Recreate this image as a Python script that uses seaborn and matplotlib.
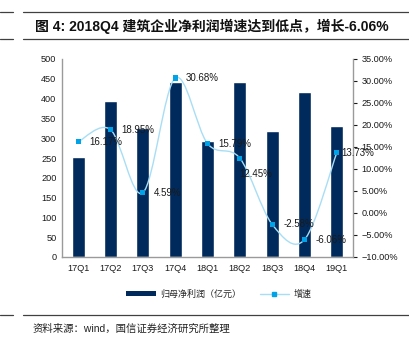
import numpy as np
import pandas as pd
import matplotlib
matplotlib.use("Agg")
import matplotlib.pyplot as plt
from matplotlib.path import Path
from matplotlib.patches import PathPatch, Rectangle
from matplotlib.lines import Line2D
from matplotlib.ticker import PercentFormatter
import seaborn as sns

# ---- data ----
categories = ["17Q1", "17Q2", "17Q3", "17Q4", "18Q1", "18Q2", "18Q3", "18Q4", "19Q1"]
profit = [252, 393, 325, 443, 293, 443, 318, 416, 332]          # 归母净利润（亿元）
growth = [16.17, 18.95, 4.59, 30.68, 15.79, 12.45, -2.58, -6.06, 13.73]  # 增速 (%)
left_ticks = [0, 50, 100, 150, 200, 250, 300, 350, 400, 450, 500]
right_ticks = [-10, -5, 0, 5, 10, 15, 20, 25, 30, 35]

title = "图 4: 2018Q4 建筑企业净利润增速达到低点，增长-6.06%"
source = "资料来源：wind，国信证券经济研究所整理"
bar_label = "归母净利润（亿元）"
line_label = "增速"

# label offsets (pixels) — style only
label_offsets = [(11, 0), (11, 0), (11, 0), (11, 0), (11, 0), (-1, -16), (11, 0), (11, 0), (4, 0)]

sns.set_theme(style="white")
FONTS = ["Liberation Sans", "Noto Sans CJK SC", "DejaVu Sans"]
plt.rcParams["font.family"] = FONTS

BAR_C = "#002a5c"
MK_C = "#00a2e8"
LN_C = "#a8def5"
AX_C = "#9a9a9a"
TXT_C = "#1a1a1a"

fig = plt.figure(figsize=(4.10, 3.43), dpi=100)
ax = fig.add_axes([62 / 410, 1 - 257 / 343, (353 - 62) / 410, (257 - 59) / 343])

df = pd.DataFrame({"cat": categories, "profit": profit, "growth": growth})
sns.barplot(data=df, x="cat", y="profit", color=BAR_C, saturation=1, width=0.4, ax=ax)
ax.set_xlim(-0.5, len(categories) - 0.5)
ax.set_ylim(0, 500)
ax.set_yticks(left_ticks)
ax.set_xlabel("")
ax.set_ylabel("")
ax.tick_params(axis="both", labelsize=6.6, colors=TXT_C, length=0, pad=4)
ax.tick_params(axis="x", pad=5)
for s in ["top", "right"]:
    ax.spines[s].set_visible(False)
for s in ["left", "bottom"]:
    ax.spines[s].set_color(AX_C)
    ax.spines[s].set_linewidth(1.0)

ax2 = ax.twinx()
ax2.set_ylim(-10, 35)
ax2.set_yticks(right_ticks)
ax2.yaxis.set_major_formatter(PercentFormatter(decimals=2))
ax2.tick_params(axis="y", labelsize=6.6, colors=TXT_C, length=3, width=0.8, pad=3)
for t in ax2.yaxis.get_ticklines():
    t.set_color(AX_C)
for s in ["top", "left", "bottom"]:
    ax2.spines[s].set_visible(False)
ax2.spines["right"].set_color(AX_C)
ax2.spines["right"].set_linewidth(1.0)

# smooth curve (Excel-style Catmull-Rom bezier through data points)
xs = np.arange(len(growth), dtype=float)
ys = np.array(growth, dtype=float)
verts = [(xs[0], ys[0])]
codes = [Path.MOVETO]
n = len(xs)
for i in range(n - 1):
    p0 = np.array([xs[max(i - 1, 0)], ys[max(i - 1, 0)]])
    p1 = np.array([xs[i], ys[i]])
    p2 = np.array([xs[i + 1], ys[i + 1]])
    p3 = np.array([xs[min(i + 2, n - 1)], ys[min(i + 2, n - 1)]])
    c1 = p1 + (p2 - p0) / 6.0
    c2 = p2 - (p3 - p1) / 6.0
    verts += [tuple(c1), tuple(c2), tuple(p2)]
    codes += [Path.CURVE4] * 3
ax2.add_patch(PathPatch(Path(verts, codes), facecolor="none", edgecolor=LN_C, lw=1.0, zorder=3))

sns.scatterplot(x=xs, y=ys, marker="s", s=14, color=MK_C, edgecolor="none", ax=ax2, zorder=4, legend=False)

for xi, yi, (dx, dy) in zip(xs, ys, label_offsets):
    ax2.annotate(f"{yi:.2f}%", (xi, yi), xytext=(dx * 0.72, dy * 0.72), textcoords="offset points",
                 ha="left", va="center", fontsize=7, color=TXT_C, zorder=5)

# legend
handles = [Rectangle((0, 0), 1, 1, facecolor=BAR_C, edgecolor="none"),
           Line2D([0], [0], color=LN_C, lw=1.0, marker="s", markersize=3.5,
                  markerfacecolor=MK_C, markeredgecolor=MK_C)]
fig.legend(handles, [bar_label, line_label], loc="center", bbox_to_anchor=(219 / 410, 1 - 294 / 343),
           ncol=2, frameon=False, handlelength=3.3, handleheight=0.45,
           columnspacing=2.0, handletextpad=0.5, prop={"family": ["Noto Sans CJK SC"], "size": 6.5})

# title & rules
rule_c = "#404040"
for yy in (12, 39, 315):
    fig.add_artist(Line2D([0, 13 / 410], [1 - yy / 343] * 2, color=rule_c, lw=0.9))
    fig.add_artist(Line2D([23 / 410, 1], [1 - yy / 343] * 2, color=rule_c, lw=0.9))

fig.text(35 / 410, 1 - 26 / 343, title, fontsize=10, fontweight="bold", color="#111111",
         ha="left", va="center", family=["Liberation Sans", "Noto Sans CJK SC"])
fig.text(33 / 410, 1 - 329 / 343, source, fontsize=7.5, color="#222222", ha="left", va="center",
         family=["Liberation Sans", "Noto Sans CJK SC"])

fig.savefig("out.png", dpi=100)
